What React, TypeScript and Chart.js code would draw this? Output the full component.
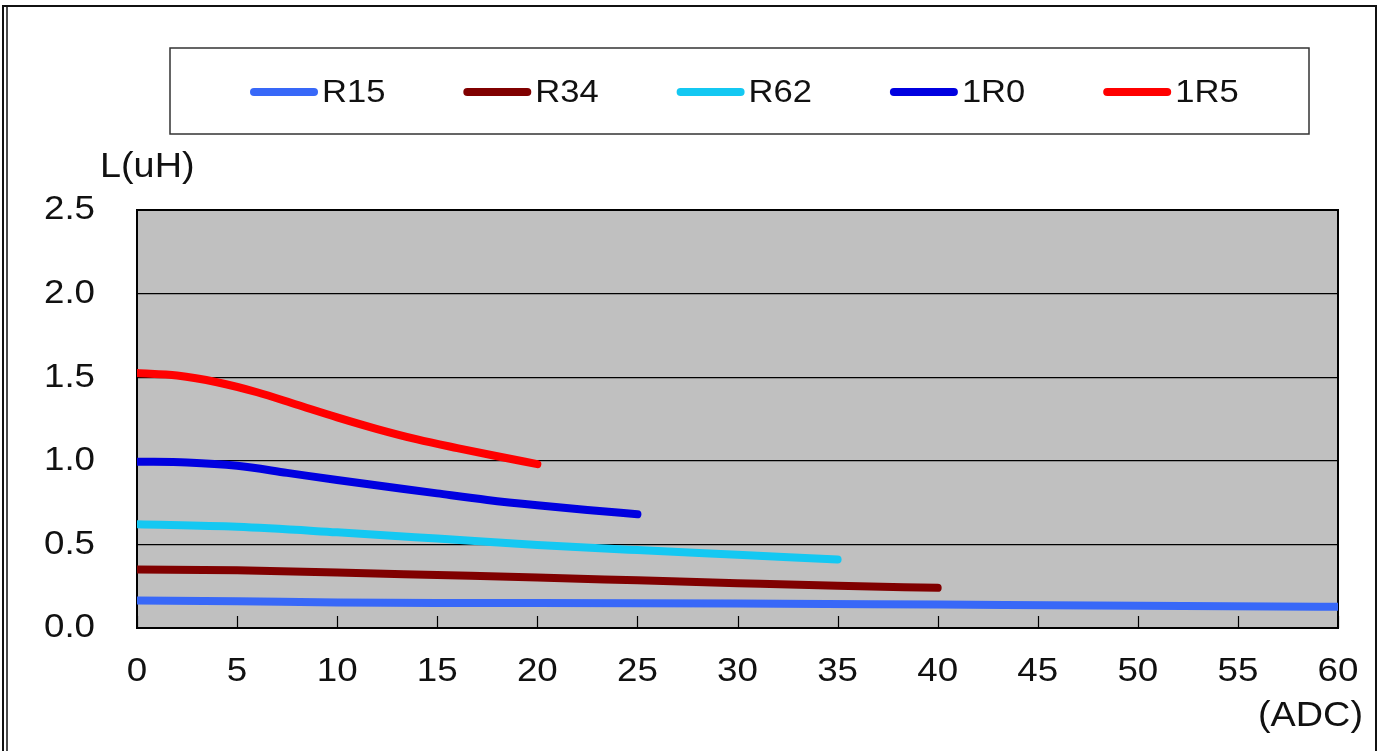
import React, { useEffect, useRef } from "react";
import { Chart, registerables } from "chart.js";

Chart.register(...registerables);

const seriesNames = ["R15", "R34", "R62", "1R0", "1R5"];
const seriesColors = ["#3868f8", "#800000", "#14c8f2", "#0000e0", "#ff0000"];

const r15Current = [0, 5, 10, 15, 20, 30, 40, 50, 60];
const r15L = [0.165, 0.16, 0.153, 0.15, 0.15, 0.147, 0.14, 0.133, 0.127];

const r34Current = [0, 5, 10, 15, 20, 25, 30, 35, 40];
const r34L = [0.35, 0.345, 0.332, 0.317, 0.302, 0.285, 0.268, 0.252, 0.24];

const r62Current = [0, 5, 10, 15, 20, 25, 30, 35];
const r62L = [0.62, 0.605, 0.572, 0.535, 0.497, 0.466, 0.438, 0.41];

const oneR0Current = [0, 2.5, 5, 7.5, 10, 12.5, 15, 17.5, 20, 22.5, 25];
const oneR0L = [0.995, 0.99, 0.97, 0.928, 0.885, 0.845, 0.805, 0.766, 0.734, 0.706, 0.68];

const oneR5Current = [0, 2, 4, 6, 8, 10, 12, 14, 16, 18, 20];
const oneR5L = [1.525, 1.51, 1.47, 1.41, 1.335, 1.26, 1.19, 1.128, 1.076, 1.027, 0.98];

const xTicks = [0, 5, 10, 15, 20, 25, 30, 35, 40, 45, 50, 55, 60];
const yTicks = [0, 0.5, 1.0, 1.5, 2.0, 2.5];
const yTitle = "L(uH)";
const xTitle = "(ADC)";

const FONT = "'Liberation Sans', Arial, sans-serif";
const STRETCH = 1.08;

const seriesX = [r15Current, r34Current, r62Current, oneR0Current, oneR5Current];
const seriesY = [r15L, r34L, r62L, oneR0L, oneR5L];

function stretchedText(ctx: any, text: string, x: number, y: number) {
  ctx.save();
  ctx.translate(x, y);
  ctx.scale(STRETCH, 1);
  ctx.fillText(text, 0, 0);
  ctx.restore();
}

const decorPlugin = {
  id: "decor",
  beforeDraw(chart: any) {
    const { ctx, chartArea: a, width, height } = chart;
    ctx.save();
    ctx.fillStyle = "#ffffff";
    ctx.fillRect(0, 0, width, height);
    ctx.fillStyle = "#c0c0c0";
    ctx.fillRect(a.left, a.top, a.right - a.left, a.bottom - a.top);
    // outer frame
    ctx.strokeStyle = "#111";
    ctx.lineWidth = 2;
    ctx.beginPath();
    ctx.moveTo(3, height + 5);
    ctx.lineTo(3, 6);
    ctx.lineTo(1376, 6);
    ctx.lineTo(1376, height + 5);
    ctx.stroke();
    ctx.lineWidth = 1.5;
    ctx.beginPath();
    ctx.moveTo(7, 6);
    ctx.lineTo(7, height + 5);
    ctx.stroke();
    // legend box
    const bx = 170, by = 48, bw = 1139, bh = 86;
    ctx.strokeStyle = "#333";
    ctx.lineWidth = 1.5;
    ctx.strokeRect(bx, by, bw, bh);
    const cy = by + 44;
    chart.data.datasets.forEach((ds: any, i: number) => {
      const x0 = bx + 84 + i * 213.3;
      ctx.strokeStyle = ds.borderColor;
      ctx.lineWidth = 8;
      ctx.lineCap = "round";
      ctx.beginPath();
      ctx.moveTo(x0, cy);
      ctx.lineTo(x0 + 60, cy);
      ctx.stroke();
      ctx.fillStyle = "#111";
      ctx.font = `32px ${FONT}`;
      ctx.textAlign = "left";
      ctx.textBaseline = "middle";
      stretchedText(ctx, ds.label, x0 + 68, cy + 1);
    });
    // axis titles
    ctx.fillStyle = "#111";
    ctx.font = `35px ${FONT}`;
    ctx.textBaseline = "middle";
    ctx.textAlign = "left";
    stretchedText(ctx, yTitle, 100, 167);
    ctx.textAlign = "right";
    stretchedText(ctx, xTitle, 1363, 716);
    ctx.restore();
    // stretch tick labels horizontally like the reference
    const orig = ctx.fillText;
    chart.$origFillText = orig;
    ctx.fillText = function (text: string, x: number, y: number, mw?: number) {
      this.save();
      this.translate(x, y);
      this.scale(STRETCH, 1);
      if (mw === undefined) orig.call(this, text, 0, 0);
      else orig.call(this, text, 0, 0, mw);
      this.restore();
    };
  },
  beforeDatasetsDraw(chart: any) {
    const { ctx, chartArea: a } = chart;
    if (chart.$origFillText) {
      ctx.fillText = chart.$origFillText;
      delete chart.$origFillText;
    }
    const xs = chart.scales.x;
    ctx.save();
    ctx.strokeStyle = "#000";
    ctx.lineWidth = 1.2;
    xs.ticks.forEach((t: any) => {
      const px = Math.round(xs.getPixelForValue(t.value)) + 0.5;
      ctx.beginPath();
      ctx.moveTo(px, a.bottom);
      ctx.lineTo(px, a.bottom - 12);
      ctx.stroke();
    });
    ctx.lineWidth = 2;
    ctx.strokeRect(a.left, a.top, a.right - a.left, a.bottom - a.top);
    ctx.restore();
  },
};

export default function App() {
  const ref = useRef<HTMLCanvasElement>(null);
  useEffect(() => {
    if (!ref.current) return;
    const datasets = seriesNames.map((name, i) => ({
      label: name,
      data: seriesX[i].map((x, j) => ({ x, y: seriesY[i][j] })),
      borderColor: seriesColors[i],
      backgroundColor: seriesColors[i],
      borderWidth: 8,
      borderCapStyle: "round" as const,
      borderJoinStyle: "round" as const,
      pointRadius: 0,
      cubicInterpolationMode: "monotone" as const,
      clip: 0,
    }));
    const chart = new Chart(ref.current, {
      type: "line",
      data: { datasets },
      options: {
        responsive: false,
        animation: false,
        devicePixelRatio: 1,
        layout: { padding: { top: 210, right: 44, left: 0, bottom: 0 } },
        plugins: { legend: { display: false }, tooltip: { enabled: false } },
        scales: {
          x: {
            type: "linear",
            min: 0,
            max: 60,
            afterBuildTicks: (s: any) => {
              s.ticks = xTicks.map((v) => ({ value: v }));
            },
            afterFit: (s: any) => {
              s.height = 123;
            },
            ticks: {
              color: "#111",
              font: { family: FONT, size: 34 },
              padding: 23,
              maxRotation: 0,
              autoSkip: false,
            },
            grid: { display: false, drawTicks: false },
            border: { display: false },
          },
          y: {
            type: "linear",
            min: 0,
            max: 2.5,
            afterBuildTicks: (s: any) => {
              s.ticks = yTicks.map((v) => ({ value: v }));
            },
            afterFit: (s: any) => {
              s.width = 137;
            },
            ticks: {
              color: "#111",
              font: { family: FONT, size: 34 },
              padding: 42,
              callback: (v: any) => Number(v).toFixed(1),
            },
            grid: { color: "#000", lineWidth: 1.2, drawTicks: false },
            border: { display: false },
          },
        },
      },
      plugins: [decorPlugin],
    });
    return () => chart.destroy();
  }, []);
  return (
    <div style={{ position: "fixed", left: 0, top: 0, width: 1382, height: 751, background: "#fff" }}>
      <canvas ref={ref} width={1382} height={751} style={{ width: 1382, height: 751, display: "block" }} />
    </div>
  );
}
